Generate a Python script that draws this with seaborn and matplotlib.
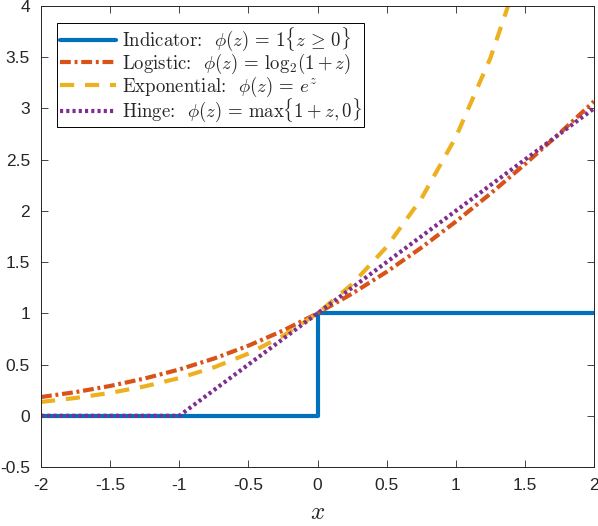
import matplotlib
matplotlib.use("Agg")
import matplotlib.pyplot as plt
import seaborn as sns

# values
x_ind = [-2, 0, 0, 2]
y_ind = [0, 0, 1, 1]

x_smooth = [-2, -1.75, -1.5, -1.25, -1, -0.75, -0.5, -0.25, 0,
            0.25, 0.5, 0.75, 1, 1.25, 1.5, 1.75, 2]
y_logistic = [0.183, 0.231, 0.291, 0.364, 0.452, 0.558, 0.684, 0.831, 1.0,
              1.192, 1.405, 1.640, 1.895, 2.167, 2.455, 2.756, 3.069]
y_exp = [0.135, 0.174, 0.223, 0.287, 0.368, 0.472, 0.607, 0.779, 1.0,
         1.284, 1.649, 2.117, 2.718, 3.490, 4.482, 5.755, 7.389]

x_hinge = [-2, -1, 2]
y_hinge = [0, 0, 3]

labels = [r"Indicator:  $\phi(z)\,=\,\mathbf{1}\{z\,\geq\,0\}$",
          r"Logistic:  $\phi(z)\,=\,\log_2\!(1+z)$",
          r"Exponential:  $\phi(z)\,=\,e^z$",
          r"Hinge:  $\phi(z)\,=\,\max\{1+z, 0\}$"]

xticks = [-2, -1.5, -1, -0.5, 0, 0.5, 1, 1.5, 2]
xtick_labels = ['-2', '-1.5', '-1', '-0.5', '0', '0.5', '1', '1.5', '2']
yticks = [-0.5, 0, 0.5, 1, 1.5, 2, 2.5, 3, 3.5, 4]
ytick_labels = ['-0.5', '0', '0.5', '1', '1.5', '2', '2.5', '3', '3.5', '4']

sns.set_style("ticks")
plt.rcParams['font.family'] = ['Liberation Sans', 'DejaVu Sans']
plt.rcParams['mathtext.fontset'] = 'cm'
plt.rcParams['axes.unicode_minus'] = False

fig = plt.figure(figsize=(5.98, 5.26), dpi=100)
ax = fig.add_axes([41 / 598, 59 / 526, 553 / 598, 461 / 526])

lw = 3.0
sns.lineplot(x=x_ind, y=y_ind, ax=ax, color='#0072BD', lw=lw, sort=False,
             estimator=None, label=labels[0])
sns.lineplot(x=x_smooth, y=y_logistic, ax=ax, color='#D95319', lw=lw,
             estimator=None, label=labels[1])
ax.lines[-1].set_linestyle((0, (2.6, 0.9, 0.7, 0.9)))
sns.lineplot(x=x_smooth, y=y_exp, ax=ax, color='#EDB120', lw=lw,
             estimator=None, label=labels[2])
ax.lines[-1].set_linestyle((0, (3.4, 2.6)))
sns.lineplot(x=x_hinge, y=y_hinge, ax=ax, color='#7E2F8E', lw=lw,
             estimator=None, label=labels[3])
ax.lines[-1].set_linestyle((0, (0.75, 0.75)))

ax.set_xlim(-2, 2)
ax.set_ylim(-0.5, 4)
ax.set_xticks(xticks)
ax.set_xticklabels(xtick_labels)
ax.set_yticks(yticks)
ax.set_yticklabels(ytick_labels)
ax.tick_params(direction='in', length=5, width=0.6, top=True, right=True,
               labelsize=12.5, colors='#262626')
ax.tick_params(axis='x', pad=8)
ax.tick_params(axis='y', pad=8)
for s in ax.spines.values():
    s.set_visible(True)
    s.set_linewidth(0.7)
    s.set_color('#262626')
ax.set_xlabel('$x$', fontsize=18, labelpad=5)
ax.set_ylabel('')

leg = ax.legend(loc='upper left', bbox_to_anchor=(0.029, 0.963),
                borderaxespad=0, prop={'family': 'cmr10', 'size': 13.5},
                handlelength=3.0, handletextpad=0.3, labelspacing=-0.08,
                borderpad=0.15, fancybox=False, framealpha=1)
leg.get_frame().set_edgecolor('black')
leg.get_frame().set_linewidth(0.7)

fig.savefig('out.png', dpi=100)
